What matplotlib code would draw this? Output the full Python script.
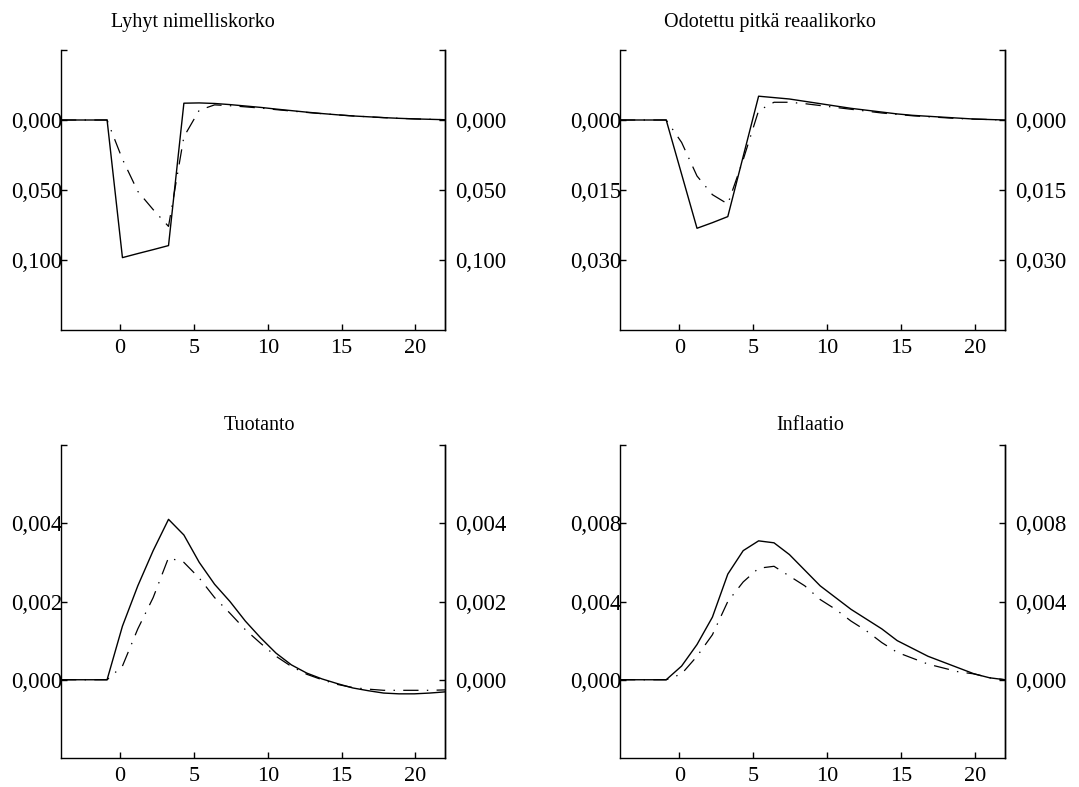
import numpy as np
import matplotlib
matplotlib.use("Agg")
import matplotlib.pyplot as plt

plt.rcParams['font.family'] = ['Liberation Serif', 'DejaVu Serif']
plt.rcParams['lines.scale_dashes'] = False

# periods -4 .. 21 (26 quarters)
periods = list(range(-4, 22))

# Lyhyt nimelliskorko
short_solid = [0, 0, 0, 0, -0.0983, -0.0954, -0.0926, -0.0897, 0.0120, 0.0122, 0.0118,
               0.0110, 0.0100, 0.0090, 0.0078, 0.0067, 0.0056, 0.0046, 0.0037, 0.0029,
               0.0023, 0.0017, 0.0012, 0.0008, 0.0005, 0.0002]
short_dash = [0, 0, 0, 0, -0.028, -0.051, -0.064, -0.076, -0.012, 0.007, 0.0108,
              0.0102, 0.0094, 0.0085, 0.0074, 0.0064, 0.0054, 0.0045, 0.0037, 0.0029,
              0.0023, 0.0017, 0.0012, 0.0008, 0.0005, 0.0002]

# Odotettu pitkä reaalikorko
long_solid = [0, 0, 0, 0, -0.0116, -0.0232, -0.0220, -0.0207, -0.0078, 0.0051, 0.0048,
              0.0045, 0.0040, 0.0035, 0.0030, 0.0025, 0.0021, 0.0017, 0.0013, 0.0010,
              0.0008, 0.0006, 0.0004, 0.0002, 0.0001, 0.0]
long_dash = [0, 0, 0, 0, -0.0048, -0.0120, -0.0160, -0.0180, -0.0085, 0.0020, 0.0038,
             0.0038, 0.0035, 0.0031, 0.0027, 0.0023, 0.0019, 0.0015, 0.0012, 0.0009,
             0.0007, 0.0005, 0.0003, 0.0002, 0.0001, 0.0]

# Tuotanto
out_solid = [0, 0, 0, 0, 0.00137, 0.0024, 0.0033, 0.0041, 0.0037, 0.0030, 0.00244,
             0.0020, 0.0015, 0.00107, 0.00068, 0.00038, 0.00017, 0.00002, -0.0001,
             -0.00021, -0.00028, -0.00034, -0.00036, -0.00036, -0.00034, -0.00031]
out_dash = [0, 0, 0, 0, 0.00035, 0.0013, 0.0021, 0.00312, 0.0030, 0.0026, 0.0021,
            0.0017, 0.00128, 0.00093, 0.0006, 0.00034, 0.00014, 0.0, -0.00012,
            -0.0002, -0.00024, -0.00027, -0.00027, -0.00027, -0.00027, -0.00026]

# Inflaatio
inf_solid = [0, 0, 0, 0, 0.0007, 0.0018, 0.0032, 0.0054, 0.0066, 0.0071, 0.0070,
             0.0064, 0.0056, 0.0048, 0.0042, 0.0036, 0.0031, 0.0026, 0.0020, 0.0016,
             0.0012, 0.0009, 0.0006, 0.0003, 0.0001, 0.0]
inf_dash = [0, 0, 0, 0, 0.0003, 0.0012, 0.0023, 0.0040, 0.0050, 0.0057, 0.0058,
            0.0053, 0.0048, 0.0041, 0.0036, 0.0030, 0.0025, 0.0019, 0.0014, 0.0011,
            0.0008, 0.0006, 0.0004, 0.0003, 0.0001, 0.0]

titles = ["Lyhyt nimelliskorko", "Odotettu pitkä reaalikorko", "Tuotanto", "Inflaatio"]
ylims = [(-0.15, 0.05), (-0.045, 0.015), (-0.002, 0.006), (-0.004, 0.012)]
yticks = [[0.0, -0.05, -0.10], [0.0, -0.015, -0.030], [0.0, 0.002, 0.004], [0.0, 0.004, 0.008]]
yticklabels = [["0,000", "0,050", "0,100"], ["0,000", "0,015", "0,030"],
               ["0,000", "0,002", "0,004"], ["0,000", "0,004", "0,008"]]
xticks = [0, 5, 10, 15, 20]
xticklabels = ["0", "5", "10", "15", "20"]
series = [(short_solid, short_dash), (long_solid, long_dash),
          (out_solid, out_dash), (inf_solid, inf_dash)]

W, H = 1079, 787
fig = plt.figure(figsize=(W / 100, H / 100), dpi=100)

# axes boxes in pixels: (left, top, right, bottom)
boxes = [(61, 50, 445, 330), (620, 50, 1005, 330), (61, 445, 445, 758), (620, 445, 1005, 758)]
title_pos = [(193, 22), (770, 22), (259, 426), (810, 426)]

p = np.array(periods)
xpos = -4 + (p + 4) * 26 / 25

for i in range(4):
    l, t, r, b = boxes[i]
    ax = fig.add_axes([l / W, 1 - b / H, (r - l) / W, (b - t) / H])
    solid, dash = series[i]
    ax.plot(xpos, solid, color='black', lw=1.0)
    ax.plot(xpos, dash, color='black', lw=0.9, dashes=(11, 6, 1, 6))
    ax.set_xlim(-4, 22)
    ax.set_ylim(*ylims[i])
    ax.spines['top'].set_visible(False)
    for s in ['left', 'right', 'bottom']:
        ax.spines[s].set_linewidth(1.0)
    ax.set_xticks(xticks)
    ax.set_xticklabels(xticklabels)
    top = ylims[i][1]
    ax.set_yticks(yticks[i] + [top])
    ax.set_yticklabels(yticklabels[i] + [""])
    ax.tick_params(axis='x', direction='in', length=4, width=1, labelsize=16, pad=6.5)
    ax.tick_params(axis='y', direction='in', length=4, width=1, labelsize=16.5, pad=-1,
                   left=True, right=False)
    ax2 = ax.twinx()
    ax2.set_ylim(*ylims[i])
    for s in ['top', 'left', 'bottom']:
        ax2.spines[s].set_visible(False)
    ax2.spines['right'].set_linewidth(1.0)
    ax2.set_yticks(yticks[i] + [top])
    ax2.set_yticklabels(yticklabels[i] + [""])
    ax2.tick_params(axis='y', direction='in', length=4, width=1, labelsize=16.5, pad=7)
    tx, ty = title_pos[i]
    fig.text(tx / W, 1 - ty / H, titles[i], ha='center', va='center', fontsize=14.5)

fig.savefig("out.png", dpi=100)
